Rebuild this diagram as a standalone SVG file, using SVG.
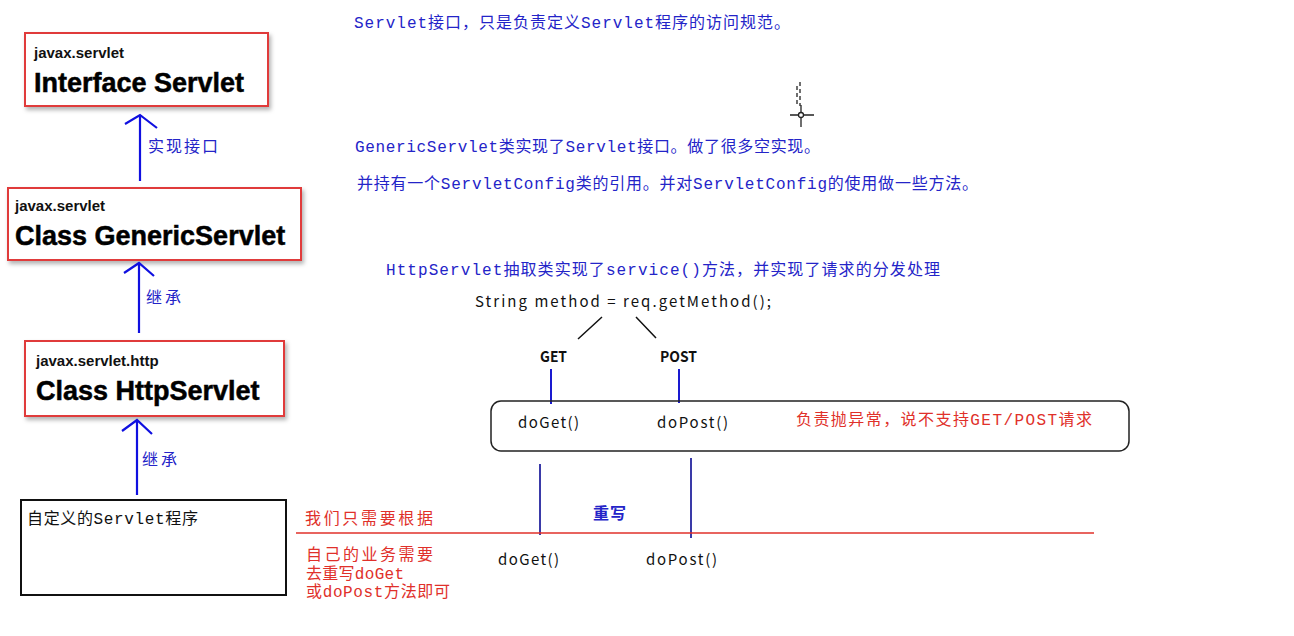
<svg xmlns="http://www.w3.org/2000/svg" width="1294" height="636" viewBox="0 0 1294 636">
<defs>
<filter id="sh" x="-10%" y="-10%" width="125%" height="135%">
<feDropShadow dx="2" dy="3" stdDeviation="2" flood-color="#000" flood-opacity="0.3"/>
</filter>
</defs>
<style>
.cls{fill:#fff;stroke:#e03a3a;stroke-width:2;filter:url(#sh)}
.pkg{font-family:"Liberation Sans",Arial,sans-serif;font-weight:bold;font-size:15px;fill:#111}
.ttl{font-family:"Liberation Sans",Arial,sans-serif;font-weight:bold;font-size:27px;fill:#000;stroke:#000;stroke-width:0.5}
.cn{font-family:"Liberation Mono","Noto Sans CJK SC",monospace;font-size:16px}
.code{font-family:"Noto Sans CJK SC","DejaVu Sans",sans-serif;font-size:15px;fill:#111}
.blue{fill:#2424c8}
.red{fill:#e0302a}
.blk{fill:#111}
.conn{stroke:#1010e0;stroke-width:2.2;fill:none}
</style>
<rect width="1294" height="636" fill="#fff"/>

<g id="node-servlet">
<rect class="cls" x="25" y="33" width="243" height="73"/>
<text class="pkg" x="34" y="58">javax.servlet</text>
<text class="ttl" x="34" y="92">Interface Servlet</text>
</g>
<g id="node-generic">
<rect class="cls" x="8" y="188" width="293" height="72"/>
<text class="pkg" x="15" y="211">javax.servlet</text>
<text class="ttl" x="15" y="245">Class GenericServlet</text>
</g>
<g id="node-http">
<rect class="cls" x="25" y="341" width="259" height="75"/>
<text class="pkg" x="36" y="366">javax.servlet.http</text>
<text class="ttl" x="36" y="400">Class HttpServlet</text>
</g>
<g id="node-custom">
<rect x="21" y="500" width="265" height="95" fill="#fff" stroke="#111" stroke-width="2"/>
<text class="cn blk" x="27" y="524" textLength="171" lengthAdjust="spacing">自定义的Servlet程序</text>
</g>

<g id="connectors">
<path class="conn" d="M140 181V116M125 124L140 115L157 128"/>
<path class="conn" d="M139 333V264M124 273L139 263L154 276"/>
<path class="conn" d="M137 495V421M122 431L137 420L152 434"/>
<path d="M602 317L578 339M636 317L656 338" stroke="#111" stroke-width="1.5" fill="none"/>
<path d="M551 369V404M679 369V403" stroke="#1a1ad0" stroke-width="2" fill="none"/>
<path d="M540 464V535M691 458V538" stroke="#3a3aa8" stroke-width="2" fill="none"/>
<path d="M296 533H1094" stroke="#e0302a" stroke-width="1.5" fill="none"/>
</g>
<text class="cn blue" x="148" y="152" textLength="70" lengthAdjust="spacing">实现接口</text>
<text class="cn blue" x="146" y="303" textLength="35" lengthAdjust="spacing">继承</text>
<text class="cn blue" x="142" y="465" textLength="35" lengthAdjust="spacing">继承</text>

<g id="notes">
<text class="cn blue" x="354" y="28" textLength="436" lengthAdjust="spacing">Servlet接口，只是负责定义Servlet程序的访问规范。</text>
<text class="cn blue" x="355" y="152" textLength="465" lengthAdjust="spacing">GenericServlet类实现了Servlet接口。做了很多空实现。</text>
<text class="cn blue" x="357" y="189" textLength="621" lengthAdjust="spacing">并持有一个ServletConfig类的引用。并对ServletConfig的使用做一些方法。</text>
<text class="cn blue" x="386" y="275" textLength="554" lengthAdjust="spacing">HttpServlet抽取类实现了service()方法，并实现了请求的分发处理</text>
<text class="code" x="475" y="307" textLength="296" lengthAdjust="spacing">String method = req.getMethod();</text>
<text class="code" x="540" y="362" font-weight="bold" textLength="27" lengthAdjust="spacingAndGlyphs">GET</text>
<text class="code" x="660" y="362" font-weight="bold" textLength="37" lengthAdjust="spacingAndGlyphs">POST</text>
</g>

<g id="node-httpservlet-methods">
<rect x="491" y="401" width="638" height="50" rx="10" fill="none" stroke="#222" stroke-width="1.5"/>
<text class="code" x="518" y="428" textLength="61" lengthAdjust="spacing">doGet()</text>
<text class="code" x="657" y="428" textLength="71" lengthAdjust="spacing">doPost()</text>
<text class="cn red" x="796" y="425" textLength="296" lengthAdjust="spacing">负责抛异常，说不支持GET/POST请求</text>
</g>

<g id="override">
<text class="cn blue" x="593" y="519" font-weight="bold" textLength="33" lengthAdjust="spacing">重写</text>
<text class="code" x="498" y="565" textLength="61" lengthAdjust="spacing">doGet()</text>
<text class="code" x="646" y="565" textLength="71" lengthAdjust="spacing">doPost()</text>
<text class="cn red" x="305" y="524" textLength="128" lengthAdjust="spacing">我们只需要根据</text>
<text class="cn red" x="306" y="560" textLength="127" lengthAdjust="spacing">自己的业务需要</text>
<text class="cn red" x="306" y="579" textLength="98" lengthAdjust="spacing">去重写doGet</text>
<text class="cn red" x="306" y="597" textLength="144" lengthAdjust="spacing">或doPost方法即可</text>
</g>

<g id="cursor" stroke="#222" stroke-width="1.3" fill="none">
<path d="M800 82V106" stroke-dasharray="4 3"/>
<path d="M797 86V106" stroke-dasharray="4 3"/>
<path d="M790 115H814M801 105V127"/>
<circle cx="801" cy="115" r="2.5" fill="#fff"/>
</g>
</svg>
